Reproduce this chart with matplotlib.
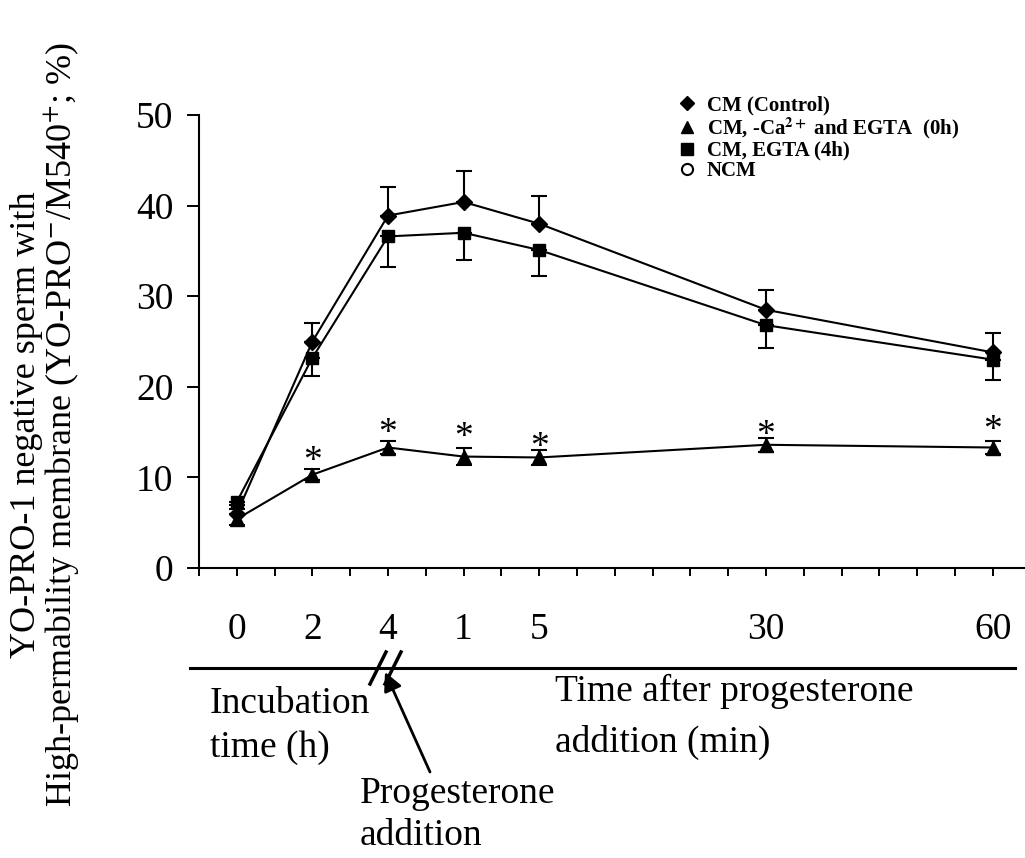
# YO-PRO-1 / M540 time course, CM vs EGTA treatments
import matplotlib
matplotlib.use('Agg')
import matplotlib.pyplot as plt
from matplotlib.lines import Line2D

plt.rcParams['font.family'] = ['Liberation Serif', 'DejaVu Serif']
plt.rcParams['mathtext.fontset'] = 'stix'

# x positions are tick slots on the broken time axis
x_slots = [1, 3, 5, 7, 9, 15, 21]
x_labels = ['0', '2', '4', '1', '5', '30', '60']
n_slots = 21

control = [6.0, 25.0, 38.9, 40.4, 38.0, 28.5, 23.8]
control_err = [0.5, 2.0, 3.1, 3.4, 3.1, 2.2, 2.1]

egta_4h = [7.3, 23.2, 36.6, 37.0, 35.1, 26.8, 23.0]
egta_4h_err = [0.4, 2.0, 3.4, 3.0, 2.9, 2.5, 2.2]

ca_free = [5.4, 10.3, 13.3, 12.3, 12.2, 13.6, 13.3]
ca_free_err = [0.6, 0.6, 0.7, 0.9, 0.8, 0.8, 0.7]

# significance stars above the -Ca2+ series
star_slots = [3, 5, 7, 9, 15, 21]
star_y = [12.5, 15.6, 15.2, 14.1, 15.4, 16.0]

legend_labels = ['CM (Control)', r'CM, -Ca$^{\mathbf{2+}}$ and EGTA  (0h)',
                 'CM, EGTA (4h)', 'NCM']

W, H = 1025, 858
fig = plt.figure(figsize=(W/100, H/100), dpi=100)
ax = fig.add_axes([199/W, 1-568/H, (W-199)/W, (568-115)/H])

kw = dict(color='black', lw=1.5, elinewidth=1.5, capsize=6, capthick=1.5)
zeros = [0]*len(x_slots)
ax.errorbar(x_slots, control, yerr=[zeros, control_err], fmt='-D', ms=8, **kw)
ax.errorbar(x_slots, egta_4h, yerr=[egta_4h_err, zeros], fmt='-s', ms=9, **kw)
ax.errorbar(x_slots, ca_free, yerr=ca_free_err, fmt='-^', ms=10, **kw)

for xs, ys in zip(star_slots, star_y):
    ax.annotate('*', xy=(xs, ys), xytext=(0, -12), textcoords='offset points',
                ha='center', va='baseline', fontsize=27)

ax.set_xlim(0, (W-199)/37.8)
ax.set_ylim(0, 50)
ax.set_yticks([0, 10, 20, 30, 40, 50])
ax.set_xticks(range(n_slots+1))
lab = ['']*(n_slots+1)
for s, l in zip(x_slots, x_labels):
    lab[s] = l
ax.set_xticklabels(lab)
ax.tick_params(axis='y', direction='out', length=8.5, width=1.4, labelsize=27, pad=10)
ax.tick_params(axis='x', direction='out', length=6, width=1.4, labelsize=27, pad=26)
for side in ['top', 'right']:
    ax.spines[side].set_visible(False)
for side in ['left', 'bottom']:
    ax.spines[side].set_linewidth(1.5)

# legend
handles = [Line2D([], [], ls='none', marker='D', ms=7, color='k'),
           Line2D([], [], ls='none', marker='^', ms=9, color='k'),
           Line2D([], [], ls='none', marker='s', ms=8, color='k'),
           Line2D([], [], ls='none', marker='o', ms=8, mfc='white', mec='k', mew=1.5)]
fig.legend(handles, legend_labels, loc='upper left', bbox_to_anchor=(668/W, 1-85/H),
           frameon=False, prop={'weight': 'bold', 'size': 15}, handlelength=0.8,
           handletextpad=0.55, labelspacing=0.0, borderpad=0)

# y label
fig.text(46/W, 1-425/H, 'YO-PRO-1 negative sperm with\n'
         r'High-permability membrane (YO-PRO$^{-}$/M540$^{+}$; %)',
         rotation=90, ha='center', va='center', multialignment='center',
         fontsize=26, linespacing=1.0)

# lower time axis with break
fig.add_artist(Line2D([190/W, 1015/W], [1-668/H, 1-668/H], color='k', lw=2.2))
for dx in [0, 15]:
    fig.add_artist(Line2D([(370+dx)/W, (386+dx)/W], [1-684/H, 1-652/H], color='k', lw=2.5))
fig.text(210/W, 1-726/H, 'Incubation\ntime (h)', fontsize=27, va='center', ha='left',
         linespacing=1.35)
fig.text(555/W, 1-717/H, 'Time after progesterone\naddition (min)', fontsize=27,
         va='center', ha='left', linespacing=1.58)
fig.text(360/W, 1-815/H, 'Progesterone\naddition', fontsize=27, va='center', ha='left',
         linespacing=1.3)
fig.add_artist(plt.Annotation('', xy=(385/W, 1-672/H), xytext=(430/W, 1-772/H),
                              xycoords='figure fraction',
                              arrowprops=dict(arrowstyle='-|>', color='k', lw=2,
                                              mutation_scale=28, shrinkA=0, shrinkB=0)))

fig.savefig('out.png', dpi=100)
